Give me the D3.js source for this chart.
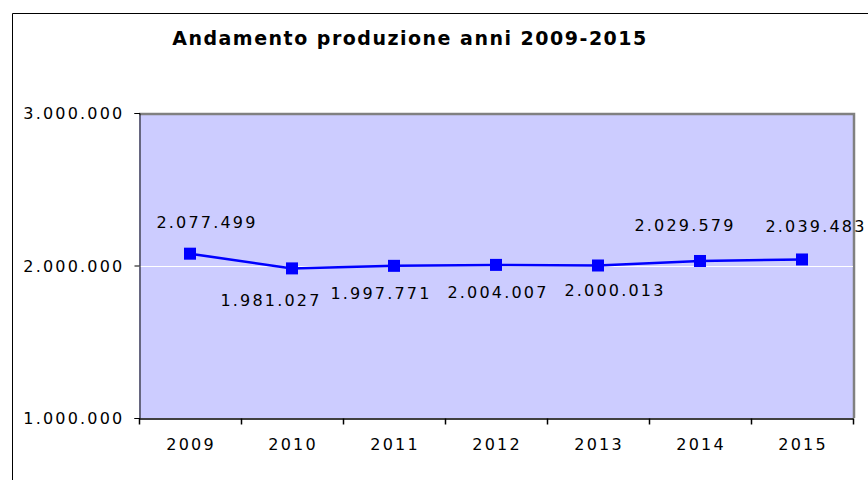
<!DOCTYPE html>
<html><head><meta charset="utf-8">
<script src="https://cdn.jsdelivr.net/npm/d3@7"></script>
<style>
html,body{margin:0;padding:0;background:#fff;}
svg{display:block;}
text{font-family:"DejaVu Sans",Verdana,sans-serif;}
</style></head>
<body>
<svg id="c" width="868" height="480"></svg>
<script>
const title = "Andamento produzione anni 2009-2015";
const years = ["2009","2010","2011","2012","2013","2014","2015"];
const values = [2077499,1981027,1997771,2004007,2000013,2029579,2039483];
const yTicks = [1000000,2000000,3000000];
// label placement (layout only): horizontal nudge and baseline offset from the point
const labelDx = [17,-21,-13,2,17,-15,14];
const labelDy = [-26,38,33,33,31,-30,-27];

const svg = d3.select("#c");
const m = {left:139, top:113, right:853, bottom:418};
const fmt = v => d3.format(",")(v).replace(/,/g,".");
const FS = 16, LS = 2.2;

// outer frame
svg.append("path").attr("d","M12.5,480 V13.5 H868").attr("fill","none").attr("stroke","#000").attr("stroke-width",1);

// title
svg.append("text").attr("x",410).attr("y",45).attr("text-anchor","middle")
  .attr("font-size",19).attr("font-weight","bold").attr("letter-spacing",1.5).text(title);

const x = d3.scaleBand().domain(years).range([m.left,m.right]).padding(0);
const y = d3.scaleLinear().domain([1000000,3000000]).range([m.bottom,m.top]);

// plot background
svg.append("rect").attr("x",m.left).attr("y",m.top).attr("width",m.right-m.left).attr("height",m.bottom-m.top).attr("fill","#CCCCFF");
// border top/right
svg.append("path").attr("d",`M${m.left},${m.top+1} H${m.right+1} V${m.bottom}`).attr("fill","none").attr("stroke","#808080").attr("stroke-width",2.5);

// gridlines
svg.selectAll(".grid").data(yTicks.filter(t=>t>1000000 && t<3000000)).enter().append("line")
  .attr("x1",m.left).attr("x2",m.right).attr("y1",d=>Math.round(y(d))+0.5).attr("y2",d=>Math.round(y(d))+0.5)
  .attr("stroke","#fff").attr("stroke-width",1);

// y axis
const yAxis = d3.axisLeft(y).tickValues(yTicks).tickFormat(fmt).tickSize(5).tickPadding(10);
const gy = svg.append("g").attr("transform",`translate(${m.left+0.5},0)`).call(yAxis);
gy.select(".domain").attr("stroke","#000");
gy.selectAll(".tick line").attr("stroke","#000");
gy.selectAll("text").attr("font-size",FS).attr("letter-spacing",LS).attr("fill","#000").attr("font-family","DejaVu Sans").attr("dy","0.36em");

// x axis
const xAxis = d3.axisBottom(x).tickSize(0).tickPadding(20);
const gx = svg.append("g").attr("transform",`translate(0,${m.bottom+0.5})`).call(xAxis);
gx.select(".domain").attr("stroke","#000").attr("stroke-width",1.5);
gx.selectAll("text").attr("font-size",FS).attr("letter-spacing",LS).attr("fill","#000").attr("font-family","DejaVu Sans").attr("dx",LS/2);
// boundary ticks
const bounds = years.map(d=>x(d)).concat([m.right]);
gx.selectAll(".btick").data(bounds).enter().append("line").attr("class","btick")
  .attr("x1",d=>Math.round(d)+0.5).attr("x2",d=>Math.round(d)+0.5).attr("y1",0).attr("y2",6).attr("stroke","#000").attr("stroke-width",1.5);

// line
const cx = d => x(d)+x.bandwidth()/2;
const line = d3.line().x((d,i)=>cx(years[i])).y(d=>y(d));
svg.append("path").datum(values).attr("d",line).attr("fill","none").attr("stroke","#0000FF").attr("stroke-width",2.5);
svg.selectAll(".mk").data(values).enter().append("rect")
  .attr("x",(d,i)=>cx(years[i])-6).attr("y",d=>y(d)-6).attr("width",12).attr("height",12).attr("fill","#0000FF");

// labels
svg.selectAll(".lb").data(values).enter().append("text")
  .attr("x",(d,i)=>cx(years[i])+labelDx[i])
  .attr("y",(d,i)=>y(d)+labelDy[i])
  .attr("text-anchor","middle").attr("font-size",FS).attr("letter-spacing",LS).attr("fill","#000")
  .text(d=>fmt(d));
</script>
</body></html>
